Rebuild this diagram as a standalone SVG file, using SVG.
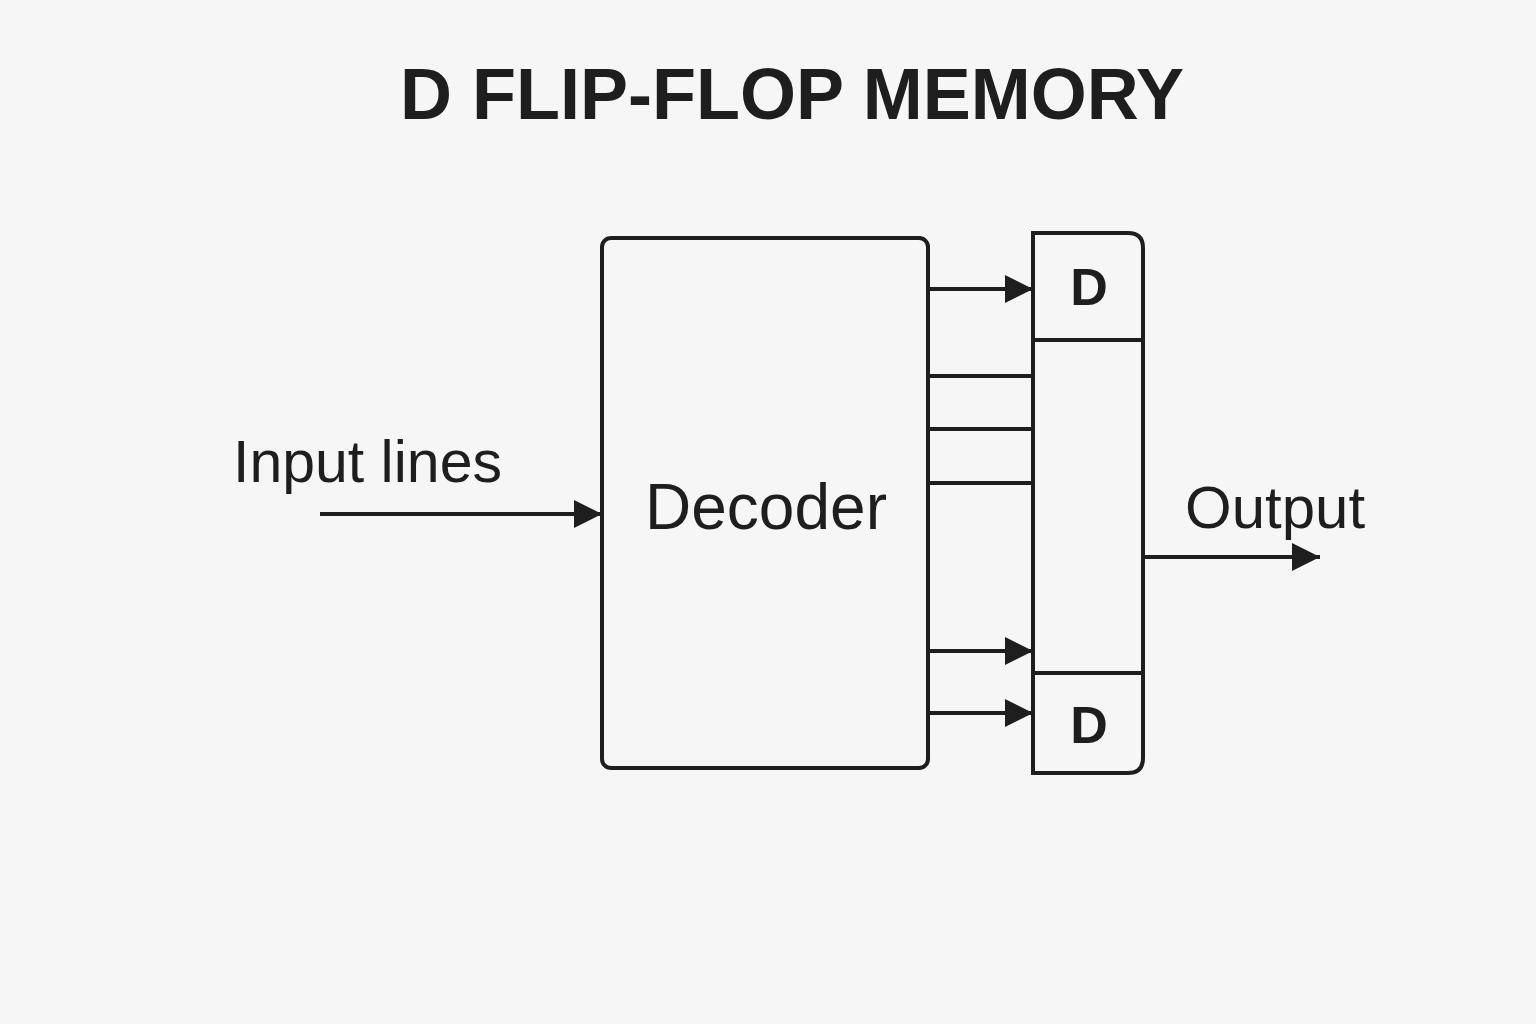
<svg xmlns="http://www.w3.org/2000/svg" width="1536" height="1024" viewBox="0 0 1536 1024">
<defs>
<style>
.box{fill:none;stroke:#1e1e1e;stroke-width:4}
.ln{stroke:#1e1e1e;stroke-width:4;fill:none}
.t{font-family:"Liberation Sans",Arial,sans-serif;fill:#1e1e1e}
</style>
<marker id="ah" markerWidth="30" markerHeight="28" viewBox="0 0 30 28" refX="28" refY="14" orient="auto" markerUnits="userSpaceOnUse">
<path d="M0,0 L28,14 L0,28 Z" fill="#1e1e1e"/>
</marker>
</defs>
<rect width="1536" height="1024" fill="#f6f6f6"/>
<text class="t" x="792" y="119" font-size="72" font-weight="bold" text-anchor="middle">D FLIP-FLOP MEMORY</text>
<g id="decoder">
<rect class="box" x="602" y="238" width="326" height="530" rx="9"/>
<text class="t" x="766" y="529" font-size="64" text-anchor="middle">Decoder</text>
</g>
<g id="register">
<path class="box" d="M1033,233 H1128 Q1143,233 1143,248 V758 Q1143,773 1128,773 H1033 Z"/>
<line class="ln" x1="1033" y1="340" x2="1143" y2="340"/>
<line class="ln" x1="1033" y1="673" x2="1143" y2="673"/>
<text class="t" x="1089" y="305" font-size="52" font-weight="bold" text-anchor="middle">D</text>
<text class="t" x="1089" y="743" font-size="52" font-weight="bold" text-anchor="middle">D</text>
</g>
<g id="input-label"><text class="t" x="233" y="482" font-size="59">Input lines</text></g>
<g id="output-label"><text class="t" x="1185" y="528" font-size="60">Output</text></g>
<g id="connectors">
<line class="ln" x1="320" y1="514" x2="602" y2="514" marker-end="url(#ah)"/>
<line class="ln" x1="928" y1="289" x2="1033" y2="289" marker-end="url(#ah)"/>
<line class="ln" x1="928" y1="376" x2="1033" y2="376"/>
<line class="ln" x1="928" y1="429" x2="1033" y2="429"/>
<line class="ln" x1="928" y1="483" x2="1033" y2="483"/>
<line class="ln" x1="928" y1="651" x2="1033" y2="651" marker-end="url(#ah)"/>
<line class="ln" x1="928" y1="713" x2="1033" y2="713" marker-end="url(#ah)"/>
<line class="ln" x1="1143" y1="557" x2="1320" y2="557" marker-end="url(#ah)"/>
</g>
</svg>
